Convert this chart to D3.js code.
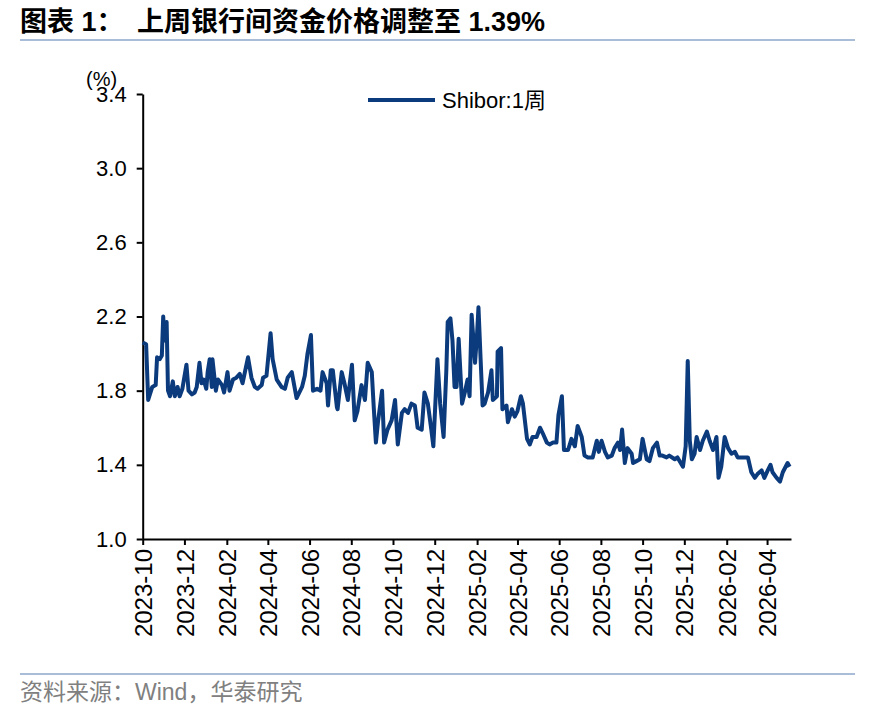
<!DOCTYPE html>
<html>
<head>
<meta charset="utf-8">
<script src="https://cdn.jsdelivr.net/npm/d3@7"></script>
<style>
  body { margin: 0; background: #fff; }
  text { font-family: "Liberation Sans", Arial, "Noto Sans CJK SC", sans-serif; }
</style>
</head>
<body>
<script>
// Shibor 1周
const dates = [
  "2023-10-01","2023-10-06","2023-10-09","2023-10-15","2023-10-20","2023-10-22","2023-10-26","2023-10-29","2023-10-31",
  "2023-11-02","2023-11-05","2023-11-07","2023-11-10","2023-11-14","2023-11-17","2023-11-21","2023-11-24","2023-11-28",
  "2023-12-04","2023-12-07","2023-12-12","2023-12-16","2023-12-19","2023-12-23","2023-12-26","2023-12-29",
  "2024-01-02","2024-01-04","2024-01-07","2024-01-10","2024-01-11","2024-01-16","2024-01-19","2024-01-25","2024-01-28",
  "2024-02-02","2024-02-05","2024-02-10","2024-02-15","2024-02-20","2024-02-24",
  "2024-03-03","2024-03-08","2024-03-13","2024-03-17","2024-03-23","2024-03-25","2024-03-30",
  "2024-04-05","2024-04-08","2024-04-14","2024-04-21","2024-04-26","2024-04-30",
  "2024-05-06","2024-05-13","2024-05-21","2024-05-25","2024-05-29",
  "2024-06-03","2024-06-06","2024-06-12","2024-06-17","2024-06-20","2024-06-26","2024-06-28",
  "2024-07-02","2024-07-05","2024-07-11","2024-07-12","2024-07-18","2024-07-22","2024-07-27",
  "2024-08-02","2024-08-06","2024-08-10","2024-08-16","2024-08-21","2024-08-25","2024-08-31",
  "2024-09-03","2024-09-06","2024-09-09","2024-09-15","2024-09-18","2024-09-23","2024-09-29",
  "2024-10-04","2024-10-08","2024-10-14","2024-10-18","2024-10-23","2024-10-28",
  "2024-11-02","2024-11-06","2024-11-12","2024-11-16","2024-11-21","2024-11-26","2024-11-29",
  "2024-12-05","2024-12-09","2024-12-14","2024-12-18","2024-12-20","2024-12-24","2024-12-27","2024-12-30",
  "2025-01-02","2025-01-05","2025-01-10","2025-01-14","2025-01-18","2025-01-21","2025-01-24","2025-01-29",
  "2025-02-01","2025-02-03","2025-02-06","2025-02-09","2025-02-12","2025-02-17","2025-02-22","2025-02-24",
  "2025-03-02","2025-03-03","2025-03-08","2025-03-10","2025-03-16","2025-03-18","2025-03-24","2025-03-28",
  "2025-04-01","2025-04-06","2025-04-09","2025-04-15","2025-04-19","2025-04-23","2025-04-29",
  "2025-05-04","2025-05-08","2025-05-14","2025-05-18","2025-05-23","2025-05-28","2025-05-31",
  "2025-06-05","2025-06-08","2025-06-14","2025-06-19","2025-06-24","2025-06-28",
  "2025-07-04","2025-07-08","2025-07-13","2025-07-20","2025-07-26","2025-07-29",
  "2025-08-02","2025-08-07","2025-08-11","2025-08-17","2025-08-21","2025-08-26","2025-08-29",
  "2025-09-01","2025-09-05","2025-09-09","2025-09-15","2025-09-17","2025-09-22","2025-09-27",
  "2025-10-01","2025-10-07","2025-10-11","2025-10-16","2025-10-22","2025-10-26","2025-10-30",
  "2025-11-05","2025-11-09","2025-11-17","2025-11-21","2025-11-29",
  "2025-12-03","2025-12-06","2025-12-09","2025-12-12","2025-12-16","2025-12-19","2025-12-24","2025-12-28",
  "2026-01-03","2026-01-07","2026-01-12","2026-01-17","2026-01-20","2026-01-24","2026-01-29",
  "2026-02-03","2026-02-08","2026-02-13","2026-02-17","2026-02-23","2026-02-27",
  "2026-03-04","2026-03-09","2026-03-14","2026-03-18","2026-03-24","2026-03-28",
  "2026-04-02","2026-04-06","2026-04-09","2026-04-15","2026-04-20","2026-04-24",
  "2026-05-01","2026-05-04"
];
const shibor1w = [
  2.06,2.05,1.75,1.82,1.83,1.98,1.97,1.99,2.20,
  2.07,2.17,1.80,1.77,1.85,1.77,1.82,1.77,1.81,
  1.94,1.80,1.78,1.79,1.82,1.95,1.84,1.86,
  1.81,1.90,1.97,1.82,1.97,1.80,1.86,1.83,1.79,
  1.90,1.80,1.86,1.87,1.89,1.84,
  1.98,1.87,1.82,1.81,1.83,1.87,1.88,
  2.11,1.97,1.86,1.82,1.81,1.87,
  1.90,1.76,1.82,1.88,2.00,
  2.10,1.80,1.81,1.80,1.90,1.84,1.72,
  1.91,1.91,1.71,1.70,1.90,1.84,1.75,
  1.94,1.64,1.69,1.83,1.75,1.95,1.90,
  1.70,1.52,1.63,1.80,1.52,1.59,1.64,
  1.75,1.51,1.68,1.70,1.68,1.73,
  1.72,1.60,1.59,1.79,1.73,1.59,1.50,
  1.97,1.73,1.55,1.91,2.17,2.19,2.07,1.82,
  1.82,2.08,1.73,1.79,1.86,1.77,2.21,1.95,
  2.11,2.25,1.98,1.72,1.73,1.79,1.91,1.75,
  1.77,2.01,2.03,1.70,1.72,1.63,1.70,1.66,
  1.69,1.77,1.73,1.54,1.51,1.55,1.55,
  1.60,1.57,1.52,1.51,1.52,1.52,1.67,
  1.77,1.48,1.48,1.54,1.50,1.61,
  1.55,1.45,1.44,1.44,1.53,1.47,
  1.53,1.47,1.44,1.45,1.49,1.52,1.48,
  1.59,1.41,1.49,1.46,1.41,1.42,1.43,
  1.54,1.43,1.42,1.49,1.52,1.45,1.45,
  1.44,1.45,1.43,1.44,1.39,
  1.50,1.96,1.53,1.43,1.46,1.55,1.48,1.53,
  1.58,1.53,1.48,1.55,1.33,1.39,1.55,
  1.49,1.46,1.47,1.44,1.44,1.44,
  1.44,1.36,1.33,1.35,1.37,1.33,
  1.37,1.40,1.36,1.33,1.31,1.36,
  1.41,1.39
];
const xTicks = ["2023-10","2023-12","2024-02","2024-04","2024-06","2024-08","2024-10","2024-12",
  "2025-02","2025-04","2025-06","2025-08","2025-10","2025-12","2026-02","2026-04"];
const yTicks = [1.0, 1.4, 1.8, 2.2, 2.6, 3.0, 3.4];
const xDomain = ["2023-10-01", "2026-05-06"];

const width = 870, height = 711,
      plotLeft = 142.7, plotRight = 791, plotTop = 94, plotBottom = 539;
const lineColor = "#0b3b7c";

const parseDay = d3.timeParse("%Y-%m-%d"),
      parseMonth = d3.timeParse("%Y-%m");

let data = dates.map((d, i) => ({ date: parseDay(d), value: shibor1w[i] }));

const svg = d3.select("body").append("svg").attr("width", width).attr("height", height);

let x = d3.scaleTime().domain(xDomain.map(parseDay)).range([plotLeft, plotRight]);
let y = d3.scaleLinear().domain([1.0, 3.4]).range([plotBottom, plotTop]);

// title + rules
svg.append("text").attr("x", 20).attr("y", 31).attr("font-size", 27).attr("font-weight", "bold")
   .attr("font-family", "'Noto Sans CJK SC', sans-serif").text("图表 1：");
svg.append("text").attr("x", 137).attr("y", 31).attr("font-size", 27).attr("font-weight", "bold")
   .attr("font-family", "'Noto Sans CJK SC', sans-serif").text("上周银行间资金价格调整至 1.39%");
svg.append("line").attr("x1", 20).attr("x2", 855).attr("y1", 40).attr("y2", 40)
   .attr("stroke", "#a9bdd8").attr("stroke-width", 2);
svg.append("line").attr("x1", 20).attr("x2", 855).attr("y1", 674).attr("y2", 674)
   .attr("stroke", "#a9bdd8").attr("stroke-width", 2);
svg.append("text").attr("x", 20).attr("y", 700).attr("font-size", 23).attr("fill", "#808080")
   .attr("font-family", "'Noto Sans CJK SC', sans-serif").text("资料来源：Wind，华泰研究");

// axes
let yAxis = svg.append("g").attr("transform", `translate(${plotLeft},0)`)
   .call(d3.axisLeft(y).tickValues(yTicks).tickFormat(d3.format(".1f")).tickSize(6).tickSizeOuter(0).tickPadding(10));
let xAxis = svg.append("g").attr("transform", `translate(0,${plotBottom})`)
   .call(d3.axisBottom(x).tickValues(xTicks.map(parseMonth)).tickFormat(d3.timeFormat("%Y-%m")).tickSize(6).tickSizeOuter(0));

[yAxis, xAxis].forEach(a => {
  a.selectAll("path, line").attr("stroke", "#000").attr("stroke-width", 2);
  a.selectAll("text").attr("fill", "#000").attr("font-family", "'Liberation Sans', Arial, sans-serif");
});
yAxis.selectAll("text").attr("font-size", 22);
xAxis.selectAll("text").attr("font-size", 24)
   .attr("transform", "rotate(-90)").attr("x", -10).attr("y", 0).attr("dy", "0.36em")
   .style("text-anchor", "end");

svg.append("text").attr("x", 86).attr("y", 86).attr("font-size", 20).text("(%)");

// line
svg.append("path").datum(data)
   .attr("fill", "none").attr("stroke", lineColor).attr("stroke-width", 4).attr("stroke-linejoin", "round")
   .attr("d", d3.line().x(d => x(d.date)).y(d => y(d.value)));

// legend
svg.append("line").attr("x1", 368).attr("x2", 435).attr("y1", 100).attr("y2", 100)
   .attr("stroke", lineColor).attr("stroke-width", 4);
svg.append("text").attr("x", 442).attr("y", 108).attr("font-size", 22).text("Shibor:1周");
</script>
</body>
</html>
